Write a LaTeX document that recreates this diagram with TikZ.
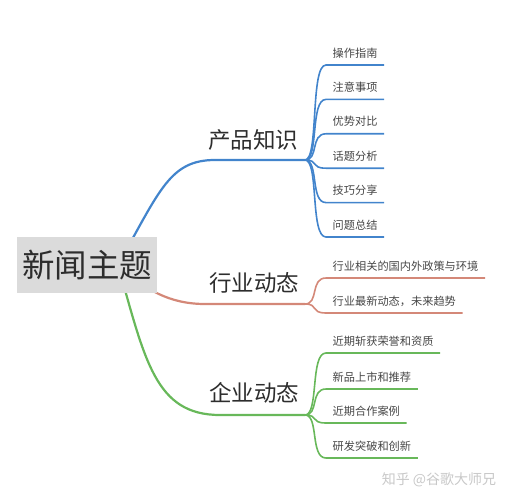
\documentclass[tikz,border=0pt]{standalone}
\usepackage{fontspec}
\newfontfamily\cjk{Noto Sans CJK SC}
\usetikzlibrary{positioning,backgrounds}

\definecolor{rootgray}{RGB}{219,219,219}
\definecolor{textdark}{RGB}{45,45,45}
\definecolor{leaftext}{RGB}{70,70,70}
\definecolor{blueline}{RGB}{66,132,204}
\definecolor{redline}{RGB}{212,136,120}
\definecolor{greenline}{RGB}{104,184,90}
\definecolor{markgray}{RGB}{200,200,200}

\begin{document}
\begin{tikzpicture}[
  x=1pt, y=-1pt,
  root node/.style={
    fill=rootgray,
    inner sep=0pt,
    minimum width=140pt,
    minimum height=56pt,
    text=textdark,
    font=\cjk\fontsize{32.5}{32.5}\selectfont,
  },
  topic node/.style={
    inner sep=0pt,
    text=textdark,
    font=\cjk\fontsize{22.5}{22.5}\selectfont,
  },
  leaf node/.style={
    anchor=south west,
    inner xsep=6.5pt,
    inner ysep=5pt,
    text height=9pt,
    text depth=2.6pt,
    text=leaftext,
    font=\cjk\fontsize{11.2}{11.2}\selectfont,
  },
  main line/.style={draw=#1, line width=2.2pt},
  leaf line/.style={draw=#1, line width=1.6pt},
  ]
  \useasboundingbox (0,0) rectangle (514,500);

  \node[root node] (root) at (87,265) {新闻主题};
  \coordinate (root hub) at (118,265);

  % topics
  \node[topic node] (prod) at (253,140) {产品知识};
  \node[topic node] (ind)  at (254,283) {行业动态};
  \node[topic node] (corp) at (254,393) {企业动态};
  \coordinate (prod hub) at (305,160);
  \coordinate (ind hub)  at (305,304);
  \coordinate (corp hub) at (305,415);

  % leaves
  \node[leaf node] (p1) at (326,65)    {操作指南};
  \node[leaf node] (p2) at (326,99.4)  {注意事项};
  \node[leaf node] (p3) at (326,133.8) {优势对比};
  \node[leaf node] (p4) at (326,168.2) {话题分析};
  \node[leaf node] (p5) at (326,202.6) {技巧分享};
  \node[leaf node] (p6) at (326,237)   {问题总结};

  \node[leaf node] (i1) at (326,278) {行业相关的国内外政策与环境};
  \node[leaf node] (i2) at (326,313) {行业最新动态，未来趋势};

  \node[leaf node] (c1) at (326,353) {近期斩获荣誉和资质};
  \node[leaf node] (c2) at (326,389) {新品上市和推荐};
  \node[leaf node] (c3) at (326,423) {近期合作案例};
  \node[leaf node] (c4) at (326,458) {研发突破和创新};

  \node[text=markgray, inner sep=0pt, font=\cjk\fontsize{14}{14}\selectfont]
    (mark) at (439,480) {知乎 @谷歌大师兄};

  \begin{scope}[on background layer]
    \draw[main line=blueline] (root hub) .. controls (160,190) and (170,160)
      .. (215,160) -- (prod hub);
    \draw[main line=redline] (root hub) .. controls (145,290) and (170,304)
      .. (205,304) -- (ind hub);
    \draw[main line=greenline] (root hub) .. controls (145,360) and (155,415)
      .. (220,415) -- (corp hub);

    \foreach \leaf in {p1,p2,p3,p4,p5,p6}
      \draw[leaf line=blueline] (prod hub) .. controls +(14,0) and +(-16,0)
        .. (\leaf.south west) -- (\leaf.south east);
    \foreach \leaf in {i1,i2}
      \draw[leaf line=redline] (ind hub) .. controls +(14,0) and +(-16,0)
        .. (\leaf.south west) -- (\leaf.south east);
    \foreach \leaf in {c1,c2,c3,c4}
      \draw[leaf line=greenline] (corp hub) .. controls +(14,0) and +(-16,0)
        .. (\leaf.south west) -- (\leaf.south east);
  \end{scope}
\end{tikzpicture}
\end{document}
